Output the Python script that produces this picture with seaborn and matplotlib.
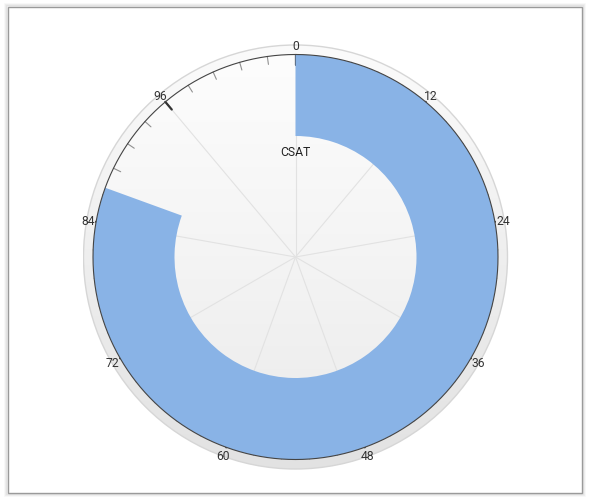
import numpy as np
import matplotlib
matplotlib.use("Agg")
import matplotlib.pyplot as plt
from matplotlib.patches import Circle, Rectangle
import seaborn as sns

# Gauge data
gauge_label = "CSAT"
gauge_value = 87
gauge_max = 108
major_ticks = [0, 12, 24, 36, 48, 60, 72, 84, 96]
tick_labels = ["0", "12", "24", "36", "48", "60", "72", "84", "96"]
minor_step = 2.4

sns.set_style("white")
plt.rcParams["font.family"] = ["Roboto", "DejaVu Sans"]

bar_color = "#89b3e6"
W, H = 591, 502
fig = plt.figure(figsize=(W / 100, H / 100), dpi=100)

# Outer panel frame with a faint shadow all round
for grow, a in [(3, 0.03), (2, 0.05), (1, 0.08)]:
    fig.patches.append(Rectangle(((8 - grow) / W, (H - 494 - grow) / H),
                                 (574 + 2 * grow) / W, (486 + 2 * grow) / H,
                                 transform=fig.transFigure, fill=False,
                                 edgecolor="black", alpha=a, lw=1.2, zorder=-3))
fig.patches.append(Rectangle((8 / W, (H - 494) / H), 574 / W, 486 / H,
                             transform=fig.transFigure, facecolor="white",
                             edgecolor="#9a9a9a", lw=1, zorder=-2))

R_OUT = 213.0    # axes radius (px)
R_RING = 212.0   # outer decorative ring
R_MAIN = 202.5   # gauge face
R_IN = 121.0     # inner radius of the band
cx, cy = 295.5, 258.0
rect = [(cx - R_OUT) / W, (H - cy - R_OUT) / H, 2 * R_OUT / W, 2 * R_OUT / H]

# Background: gradient ring and gradient face
bg = fig.add_axes(rect)
bg.axis("off")
grad = np.linspace(0, 1, 256).reshape(-1, 1)

ring_cmap = matplotlib.colors.LinearSegmentedColormap.from_list("ring", ["#fbfbfb", "#e2e2e2"])
im = bg.imshow(grad, cmap=ring_cmap, extent=[-R_RING, R_RING, -R_RING, R_RING],
               origin="upper", aspect="auto", zorder=1)
im.set_clip_path(Circle((0, 0), R_RING, transform=bg.transData))
bg.add_patch(Circle((0, 0), R_RING, fill=False, edgecolor="#d6d6d6", lw=1, zorder=2))

face_cmap = matplotlib.colors.LinearSegmentedColormap.from_list("face", ["#fdfdfd", "#ebebeb"])
im2 = bg.imshow(grad, cmap=face_cmap, extent=[-R_MAIN, R_MAIN, -R_MAIN, R_MAIN],
                origin="upper", aspect="auto", zorder=3)
im2.set_clip_path(Circle((0, 0), R_MAIN, transform=bg.transData))
bg.set_xlim(-R_OUT, R_OUT)
bg.set_ylim(-R_OUT, R_OUT)
bg.set_aspect("equal")

# Polar gauge
ax = fig.add_axes(rect, projection="polar")
ax.set_theta_zero_location("N")
ax.set_theta_direction(-1)
ax.set_ylim(0, R_OUT)
ax.set_axis_off()


def to_theta(v):
    return float(v) / gauge_max * 2 * np.pi


# spokes
for t in major_ticks:
    th = to_theta(t)
    ax.plot([th, th], [0, R_MAIN], color="#e2e2e2", lw=0.8, zorder=2)

# minor and major ticks
minor_vals = np.arange(0, gauge_max, minor_step)
for v in minor_vals:
    th = to_theta(v)
    ax.plot([th, th], [R_MAIN - 8, R_MAIN], color="#909090", lw=0.8, zorder=3)
for v in major_ticks:
    th = to_theta(v)
    ax.plot([th, th], [R_MAIN - 10, R_MAIN], color="#333333", lw=1.6, zorder=3)

# value band
ax.bar(0, R_MAIN - R_IN, width=to_theta(gauge_value), bottom=R_IN, align="edge",
       color=bar_color, edgecolor="none", zorder=4)

# face outline
th_full = np.linspace(0, 2 * np.pi, 721)
ax.plot(th_full, np.full_like(th_full, R_MAIN), color="#444444", lw=0.8, zorder=5)

# tick labels
for v, lab in zip(major_ticks, tick_labels):
    ax.text(to_theta(v), 211, lab, ha="center", va="center", fontsize=8.7,
            color="#333333", zorder=6)

fig.text(cx / W, 1 - 153 / H, gauge_label, ha="center", va="center",
         fontsize=8.7, color="#222222", zorder=10)

fig.savefig("out.png", dpi=100)
